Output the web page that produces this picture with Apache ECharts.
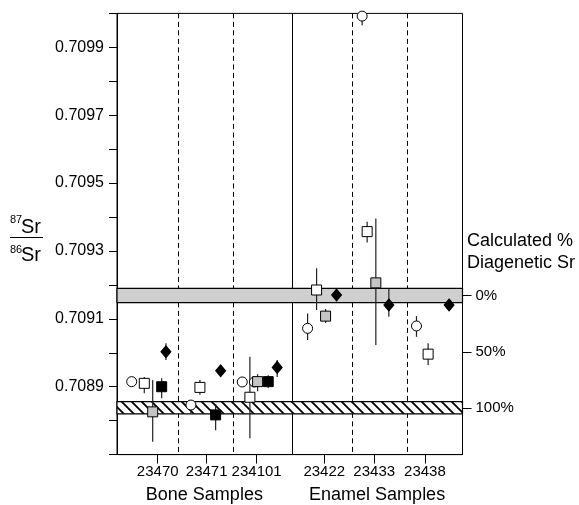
<!DOCTYPE html>
<html><head><meta charset="utf-8">
<script src="https://cdn.jsdelivr.net/npm/echarts@6/dist/echarts.min.js"></script>
<style>html,body{margin:0;padding:0;background:#fff}#c{width:579px;height:505px}</style>
</head><body><div id="c"></div><script>
// ---- data ----
const sampleNames = ['23470', '23471', '234101', '23422', '23433', '23438'];
const samplePos = [0.707, 1.557, 2.425, 3.599, 4.467, 5.347];
const dividerPos = [1.064, 2.009, 3.033, 4.075, 5.030];
const dividerSolid = [false, false, true, false, false];
const groupNames = ['Bone Samples', 'Enamel Samples'];
const groupPos = [1.517, 4.517];
const yTicksLabeled = [0.7089, 0.7091, 0.7093, 0.7095, 0.7097, 0.7099];
// bands: [low, high]
const enamelBand = [0.709148, 0.70919];      // 0% diagenetic (grey)
const diageneticBand = [0.70882, 0.708856];  // 100% diagenetic (hatched)
const pctTicks = [0, 50, 100];
// rows: [x, ratio, errLow, errHigh]
const openCircle = [
  [0.255, 0.708915, null, null],
  [1.284, 0.708846, 0.708822, 0.708861],
  [2.175, 0.708914, null, null],
  [2.386, 0.708914, null, null],
  [3.310, 0.709072, 0.709038, 0.709116],
  [4.257, 0.709992, 0.709965, 0.710000],
  [5.201, 0.709079, 0.709047, 0.709108]
];
const openSquare = [
  [0.474, 0.708910, 0.708881, 0.708929],
  [1.440, 0.708898, 0.708876, 0.708920],
  [2.308, 0.708869, 0.708748, 0.708988],
  [3.466, 0.709185, 0.709126, 0.709249],
  [4.344, 0.709357, 0.709325, 0.709386],
  [5.403, 0.708996, 0.708964, 0.709028]
];
const greySquare = [
  [0.620, 0.708826, 0.708738, 0.708920],
  [2.442, 0.708915, 0.708887, 0.708937],
  [3.622, 0.709108, 0.709088, 0.709129],
  [4.495, 0.709206, 0.709023, 0.709396]
];
const blackSquare = [
  [0.776, 0.708900, 0.708866, 0.708925],
  [1.713, 0.708817, 0.708772, 0.708849],
  [2.626, 0.708915, 0.708896, 0.708934]
];
const blackDiamond = [
  [0.850, 0.709003, 0.708979, 0.709028],
  [1.800, 0.708947, null, null],
  [2.782, 0.708957, 0.708929, 0.708979],
  [3.813, 0.709170, null, null],
  [4.721, 0.709141, 0.709106, 0.709190],
  [5.767, 0.709141, null, null]
];

// ---- derived ----
const FONT = '"Liberation Sans", Arial, Helvetica, sans-serif';
const v0 = (enamelBand[0] + enamelBand[1]) / 2;
const v100 = (diageneticBand[0] + diageneticBand[1]) / 2;
const pctVals = pctTicks.map(p => v0 + (v100 - v0) * p / 100);
function nearestIdx(arr, v) {
  let bi = 0, bd = Infinity;
  arr.forEach((a, i) => { const d = Math.abs(a - v); if (d < bd) { bd = d; bi = i; } });
  return bi;
}
function hatchCanvas() {
  const s = 10;
  const c = document.createElement('canvas'); c.width = s; c.height = s;
  const g = c.getContext('2d');
  g.fillStyle = '#fff'; g.fillRect(0, 0, s, s);
  g.strokeStyle = '#000'; g.lineWidth = 1.8;
  g.beginPath();
  g.moveTo(-2, -2); g.lineTo(s + 2, s + 2);
  g.moveTo(-2, s - 2); g.lineTo(2, s + 2);
  g.moveTo(s - 2, -2); g.lineTo(s + 2, 2);
  g.stroke();
  return c;
}
const hatch = { image: hatchCanvas(), repeat: 'repeat' };

const allPts = [openCircle, openSquare, greySquare, blackSquare, blackDiamond];
const errData = [];
allPts.forEach(arr => arr.forEach(r => { if (r[2] != null) errData.push([r[0], r[1], r[2], r[3]]); }));

const chart = echarts.init(document.getElementById('c'), null, { renderer: 'canvas' });

function scatter(name, data, symbol, size, fill, z) {
  return {
    name, type: 'scatter', data: data.map(r => [r[0], r[1]]), symbol, symbolSize: size,
    itemStyle: { color: fill, borderColor: '#000', borderWidth: 1, opacity: 1 },
    z, silent: true, clip: false
  };
}

chart.setOption({
  animation: false,
  backgroundColor: '#fff',
  textStyle: { fontFamily: FONT },
  grid: { left: 117, right: 116.5, top: 13.4, bottom: 50.4, show: true, borderColor: '#000', borderWidth: 1, backgroundColor: 'transparent' },
  xAxis: [{
    type: 'value', min: 0, max: 6,
    axisLine: { show: true, lineStyle: { color: '#000', width: 1 } },
    splitLine: { show: false },
    axisTick: { show: true, customValues: samplePos, length: 9, lineStyle: { color: '#000' } },
    axisLabel: { customValues: samplePos, formatter: v => sampleNames[nearestIdx(samplePos, v)], color: '#000', fontSize: 15, margin: 10, fontFamily: FONT }
  }, {
    type: 'value', min: 0, max: 6, position: 'bottom',
    axisLine: { show: false }, axisTick: { show: false }, splitLine: { show: false },
    axisLabel: { customValues: groupPos, formatter: v => groupNames[nearestIdx(groupPos, v)], color: '#000', fontSize: 18, margin: 31, fontFamily: FONT }
  }],
  yAxis: [{
    type: 'value', min: 0.7087, max: 0.7100, interval: 0.0001,
    axisLine: { show: true, lineStyle: { color: '#000' } },
    splitLine: { show: false },
    axisTick: { show: true, length: 8, lineStyle: { color: '#000' } },
    axisLabel: {
      formatter: v => { const i = nearestIdx(yTicksLabeled, v); return Math.abs(yTicksLabeled[i] - v) < 1e-7 ? yTicksLabeled[i].toFixed(4) : ''; },
      color: '#000', fontSize: 16, margin: 13, fontFamily: FONT
    }
  }, {
    type: 'value', position: 'right', min: 0.7087, max: 0.7100,
    axisLine: { show: true, lineStyle: { color: '#000' } },
    splitLine: { show: false },
    axisTick: { show: false },
    axisLabel: { customValues: pctVals, formatter: v => pctTicks[nearestIdx(pctVals, v)] + '%', color: '#000', fontSize: 15, margin: 13, fontFamily: FONT }
  }],
  graphic: [
    { type: 'text', left: 10, top: 214, z: 10, style: { text: '87', fontSize: 11, fill: '#000', fontFamily: FONT } },
    { type: 'text', left: 21, top: 217, z: 10, style: { text: 'Sr', fontSize: 20, fill: '#000', fontFamily: FONT } },
    { type: 'line', z: 10, shape: { x1: 10, y1: 237.5, x2: 43, y2: 237.5 }, style: { stroke: '#000', lineWidth: 1 } },
    { type: 'text', left: 10, top: 244, z: 10, style: { text: '86', fontSize: 11, fill: '#000', fontFamily: FONT } },
    { type: 'text', left: 21, top: 245, z: 10, style: { text: 'Sr', fontSize: 20, fill: '#000', fontFamily: FONT } },
    { type: 'text', left: 467, top: 232, z: 10, style: { text: 'Calculated %', fontSize: 18, fill: '#000', fontFamily: FONT } },
    { type: 'text', left: 467, top: 254, z: 10, style: { text: 'Diagenetic Sr', fontSize: 18, fill: '#000', fontFamily: FONT } }
  ],
  series: [
    {
      type: 'custom', name: 'dividers', z: 1, silent: true,
      data: dividerPos.map((p, i) => [p, 0.709, dividerSolid[i] ? 1 : 0]),
      encode: { x: 0, y: 1 },
      renderItem: (params, api) => {
        const cs = params.coordSys;
        const x = Math.round(api.coord([api.value(0), 0.709])[0]) + 0.5;
        return { type: 'line', shape: { x1: x, y1: cs.y, x2: x, y2: cs.y + cs.height },
          style: { stroke: '#000', lineWidth: 1, lineDash: api.value(2) ? null : [5, 3.5] } };
      }
    },
    {
      type: 'custom', name: 'bands', z: 2, silent: true,
      data: [[0, enamelBand[0], enamelBand[1], 0], [0, diageneticBand[0], diageneticBand[1], 1]],
      encode: { x: 0, y: [1, 2] },
      renderItem: (params, api) => {
        const cs = params.coordSys;
        const yb = api.coord([0, api.value(1)])[1];
        const yt = api.coord([0, api.value(2)])[1];
        return { type: 'rect', shape: { x: cs.x, y: yt, width: cs.width, height: yb - yt },
          style: { fill: api.value(3) ? hatch : '#cfcfcf', stroke: '#000', lineWidth: 1.2 } };
      }
    },
    {
      type: 'custom', name: 'pctTicks', z: 6, silent: true, clip: false,
      data: pctVals.map(v => [6, v]), encode: { x: 0, y: 1 },
      renderItem: (params, api) => {
        const cs = params.coordSys;
        const y = Math.round(api.coord([6, api.value(1)])[1]) + 0.5;
        const x = cs.x + cs.width;
        return { type: 'line', shape: { x1: x, y1: y, x2: x + 9, y2: y }, style: { stroke: '#000', lineWidth: 1 } };
      }
    },
    {
      type: 'custom', name: 'errors', z: 3, silent: true,
      data: errData, encode: { x: 0, y: [2, 3] },
      renderItem: (params, api) => {
        const a = api.coord([api.value(0), api.value(2)]);
        const b = api.coord([api.value(0), api.value(3)]);
        return { type: 'line', shape: { x1: a[0], y1: a[1], x2: b[0], y2: b[1] }, style: { stroke: '#222', lineWidth: 1.2 } };
      }
    },
    scatter('openCircle', openCircle, 'circle', 10, '#fff', 4),
    scatter('openSquare', openSquare, 'rect', 10, '#fff', 5),
    scatter('greySquare', greySquare, 'rect', 10, '#c4c4c4', 5),
    scatter('blackSquare', blackSquare, 'rect', 10, '#000', 5),
    scatter('blackDiamond', blackDiamond, 'diamond', [10, 12], '#000', 5)
  ]
});
</script></body></html>
